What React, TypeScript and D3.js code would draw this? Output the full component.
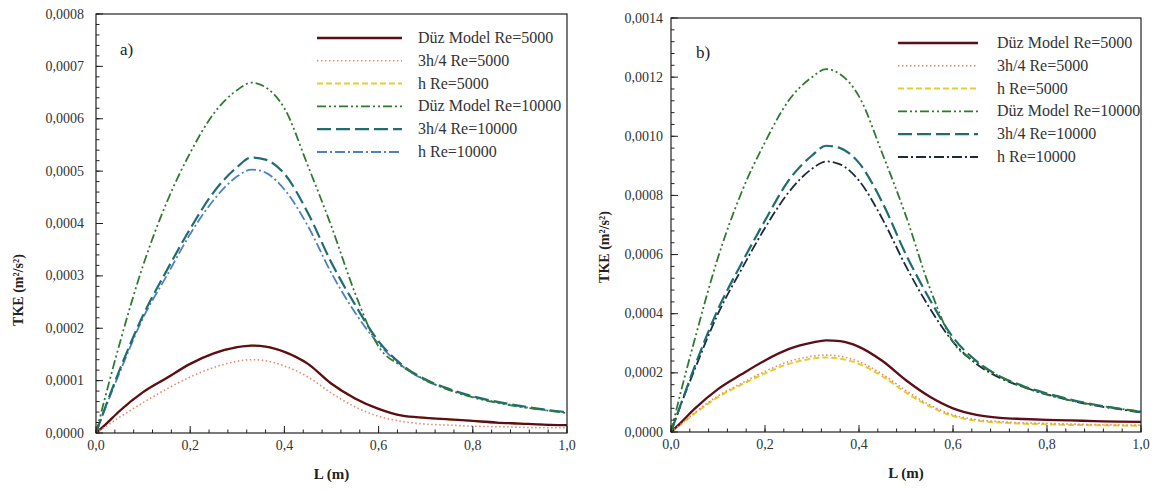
import React from "react";
import * as d3 from "d3";

// L positions (m)
const L = [0, 0.02, 0.05, 0.1, 0.15, 0.2, 0.25, 0.3, 0.33, 0.36, 0.4, 0.45, 0.5, 0.55, 0.6, 0.65, 0.7, 0.75, 0.8, 0.85, 0.9, 0.95, 1.0];

// Panel a) values, TKE in 1e-4 m²/s²
const aDuz5000 = [0, 0.16, 0.42, 0.78, 1.05, 1.32, 1.52, 1.64, 1.67, 1.65, 1.55, 1.32, 0.94, 0.66, 0.46, 0.33, 0.29, 0.26, 0.23, 0.2, 0.18, 0.16, 0.15];
const a3h4_5000 = [0, 0.12, 0.3, 0.58, 0.84, 1.07, 1.25, 1.37, 1.4, 1.38, 1.28, 1.07, 0.76, 0.5, 0.32, 0.22, 0.17, 0.15, 0.13, 0.12, 0.11, 0.1, 0.1];
const aH5000 = [0, 0.16, 0.42, 0.78, 1.05, 1.32, 1.52, 1.64, 1.67, 1.65, 1.55, 1.32, 0.94, 0.66, 0.46, 0.33, 0.29, 0.26, 0.23, 0.2, 0.18, 0.16, 0.15];
const aDuz10000 = [0, 0.7, 1.7, 3.2, 4.4, 5.35, 6.1, 6.55, 6.69, 6.6, 6.2, 5.1, 3.94, 2.67, 1.65, 1.27, 1.01, 0.82, 0.68, 0.58, 0.5, 0.44, 0.38];
const a3h4_10000 = [0, 0.5, 1.2, 2.25, 3.1, 3.9, 4.6, 5.08, 5.26, 5.22, 4.95, 4.2, 3.25, 2.45, 1.75, 1.3, 1.02, 0.84, 0.7, 0.6, 0.52, 0.45, 0.4];
const aH10000 = [0, 0.48, 1.15, 2.2, 3.0, 3.8, 4.45, 4.9, 5.03, 4.97, 4.65, 3.95, 3.05, 2.3, 1.7, 1.28, 1.0, 0.83, 0.69, 0.59, 0.51, 0.44, 0.39];

// Panel b) values, TKE in 1e-4 m²/s²
const bDuz5000 = [0, 0.3, 0.78, 1.45, 1.95, 2.42, 2.8, 3.02, 3.1, 3.07, 2.88, 2.4, 1.75, 1.2, 0.8, 0.58, 0.48, 0.44, 0.41, 0.39, 0.37, 0.35, 0.34];
const b3h4_5000 = [0, 0.25, 0.65, 1.22, 1.65, 2.05, 2.38, 2.56, 2.6, 2.56, 2.38, 1.95, 1.4, 0.92, 0.58, 0.42, 0.35, 0.31, 0.29, 0.27, 0.25, 0.24, 0.23];
const bH5000 = [0, 0.24, 0.62, 1.18, 1.6, 1.98, 2.3, 2.48, 2.52, 2.48, 2.3, 1.88, 1.33, 0.87, 0.54, 0.38, 0.32, 0.28, 0.26, 0.24, 0.23, 0.22, 0.21];
const bDuz10000 = [0, 1.3, 3.1, 5.9, 8.1, 9.8, 11.2, 12.0, 12.27, 12.1, 11.35, 9.4, 7.3, 4.9, 3.05, 2.35, 1.87, 1.52, 1.26, 1.07, 0.92, 0.8, 0.69];
const b3h4_10000 = [0, 0.9, 2.2, 4.15, 5.7, 7.15, 8.5, 9.35, 9.68, 9.6, 9.1, 7.75, 6.0, 4.5, 3.2, 2.4, 1.88, 1.55, 1.3, 1.1, 0.93, 0.8, 0.68];
const bH10000 = [0, 0.88, 2.1, 4.0, 5.5, 6.9, 8.1, 8.9, 9.15, 9.05, 8.5, 7.2, 5.6, 4.2, 3.05, 2.3, 1.83, 1.52, 1.27, 1.07, 0.9, 0.78, 0.66];

const seriesNames = ["Düz Model Re=5000", "3h/4 Re=5000", "h Re=5000", "Düz Model Re=10000", "3h/4 Re=10000", "h Re=10000"];
const xTicks = [0, 0.2, 0.4, 0.6, 0.8, 1.0];

type Style = { color: string; dash: string; width: number };

const baseStyles: Style[] = [
  { color: "#5c0d18", dash: "", width: 2.3 },
  { color: "#e38a6e", dash: "1.5,2.5", width: 1.6 },
  { color: "#e4cf2e", dash: "6,3", width: 2 },
  { color: "#2f7a2f", dash: "9,3,2,3,2,3", width: 1.8 },
  { color: "#1f6d70", dash: "14,5", width: 2.2 },
  { color: "#4f80c2", dash: "10,3,2,3", width: 1.8 },
];

const FONT = "Liberation Serif";

type PanelCfg = {
  data: number[][];
  x0: number; x1: number; yB: number; yT: number;
  yMax: number; yMajor: number; yMinor: number;
  labelRight: number; titleX: number; titleY: number;
  tag: string; tagX: number; tagY: number;
  legLx0: number; legLx1: number; legTx: number; legY0: number;
  hColor: string;
};

const fmtY = (v: number) => (v * 1e-4).toFixed(4).replace(".", ",");
const fmtX = (v: number) => v.toFixed(1).replace(".", ",");

function Panel({ cfg }: { cfg: PanelCfg }) {
  const x = d3.scaleLinear().domain([0, 1]).range([cfg.x0, cfg.x1]);
  const y = d3.scaleLinear().domain([0, cfg.yMax]).range([cfg.yB, cfg.yT]);
  const styles = baseStyles.map((s, i) => (i === 5 ? { ...s, color: cfg.hColor } : s));
  const line = d3
    .line<number>()
    .x((_, i) => x(L[i]))
    .y((d) => y(d))
    .curve(d3.curveMonotoneX);
  const yMajorTicks = d3.range(0, cfg.yMax + 1e-9, cfg.yMajor);
  const yMinorTicks = d3.range(0, cfg.yMax + 1e-9, cfg.yMinor);
  const xMinorTicks = d3.range(0, 1.0001, 0.04);
  const drawOrder = [2, 0, 1, 5, 4, 3];
  return (
    <g>
      {drawOrder.map((i) => (
        <path key={i} d={line(cfg.data[i]) || ""} fill="none" stroke={styles[i].color}
          strokeWidth={styles[i].width} strokeDasharray={styles[i].dash} />
      ))}
      <rect x={cfg.x0} y={cfg.yT} width={cfg.x1 - cfg.x0} height={cfg.yB - cfg.yT} fill="none" stroke="#222" strokeWidth={1.2} />
      {xMinorTicks.map((t, i) => (
        <line key={"xm" + i} x1={x(t)} x2={x(t)} y1={cfg.yB} y2={cfg.yB - 3.5} stroke="#222" />
      ))}
      {xTicks.map((t) => (
        <g key={"x" + t}>
          <line x1={x(t)} x2={x(t)} y1={cfg.yB} y2={cfg.yB - 7} stroke="#222" />
          <text x={x(t)} y={cfg.yB + 17} textAnchor="middle" fontSize={14} fill="#333">{fmtX(t)}</text>
        </g>
      ))}
      {yMinorTicks.map((t, i) => (
        <line key={"ym" + i} x1={cfg.x0} x2={cfg.x0 + 3.5} y1={y(t)} y2={y(t)} stroke="#222" />
      ))}
      {yMajorTicks.map((t) => (
        <g key={"y" + t}>
          <line x1={cfg.x0} x2={cfg.x0 + 7} y1={y(t)} y2={y(t)} stroke="#222" />
          <text x={cfg.labelRight} y={y(t) + 4.5} textAnchor="end" fontSize={14} fill="#333">{fmtY(t)}</text>
        </g>
      ))}
      <text x={(cfg.x0 + cfg.x1) / 2} y={cfg.yB + 46} textAnchor="middle" fontSize={15} fontWeight="bold" fill="#222">L (m)</text>
      <text transform={`translate(${cfg.titleX},${cfg.titleY}) rotate(-90)`} textAnchor="middle" dominantBaseline="middle"
        fontSize={14} fontWeight="bold" fill="#222">TKE (m²/s²)</text>
      <text x={cfg.tagX} y={cfg.tagY} fontSize={17} fill="#222">{cfg.tag}</text>
      {seriesNames.map((n, i) => {
        const ly = cfg.legY0 + i * 22.8;
        return (
          <g key={"leg" + i}>
            <line x1={cfg.legLx0} x2={cfg.legLx1} y1={ly} y2={ly} stroke={styles[i].color}
              strokeWidth={styles[i].width} strokeDasharray={styles[i].dash} />
            <text x={cfg.legTx} y={ly + 5} fontSize={16} fill="#333">{n}</text>
          </g>
        );
      })}
    </g>
  );
}

const panelA: PanelCfg = {
  data: [aDuz5000, a3h4_5000, aH5000, aDuz10000, a3h4_10000, aH10000],
  x0: 96, x1: 567, yB: 433, yT: 14, yMax: 8, yMajor: 1, yMinor: 0.2,
  labelRight: 84, titleX: 20, titleY: 290, tag: "a)", tagX: 120, tagY: 55,
  legLx0: 317, legLx1: 402, legTx: 418, legY0: 38, hColor: "#4f80c2",
};

const panelB: PanelCfg = {
  data: [bDuz5000, b3h4_5000, bH5000, bDuz10000, b3h4_10000, bH10000],
  x0: 671, x1: 1141, yB: 432, yT: 18, yMax: 14, yMajor: 2, yMinor: 0.4,
  labelRight: 663, titleX: 606, titleY: 247, tag: "b)", tagX: 696, tagY: 58,
  legLx0: 898, legLx1: 978, legTx: 997, legY0: 43, hColor: "#1c2a3e",
};

export default function App() {
  return (
    <svg width={1155} height={490} style={{ position: "absolute", left: 0, top: 0, background: "#fff", fontFamily: "'Liberation Serif', 'Times New Roman', Times, serif" }}>
      <rect width={1155} height={490} fill="#fff" />
      <Panel cfg={panelA} />
      <Panel cfg={panelB} />
    </svg>
  );
}
